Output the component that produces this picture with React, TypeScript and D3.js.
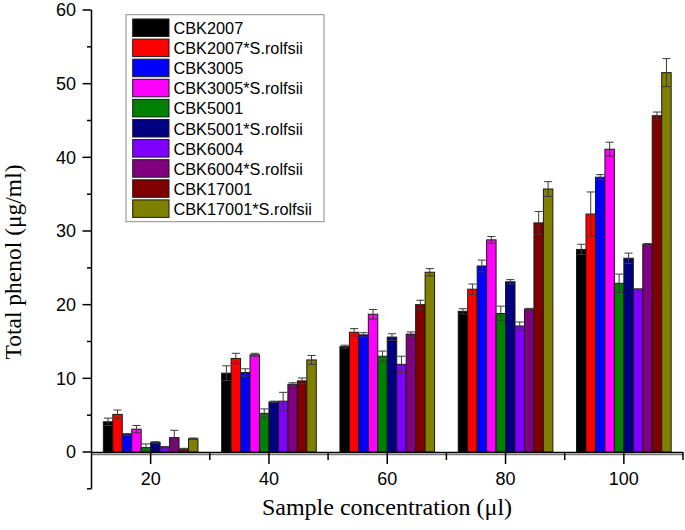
import React from "react";
import * as d3 from "d3";

const categories = ["20", "40", "60", "80", "100"];
const seriesNames = [
  "CBK2007",
  "CBK2007*S.rolfsii",
  "CBK3005",
  "CBK3005*S.rolfsii",
  "CBK5001",
  "CBK5001*S.rolfsii",
  "CBK6004",
  "CBK6004*S.rolfsii",
  "CBK17001",
  "CBK17001*S.rolfsii",
];
const seriesColors = [
  "#000000",
  "#ff0000",
  "#0000ff",
  "#ff00ff",
  "#008000",
  "#000080",
  "#8000ff",
  "#800080",
  "#800000",
  "#808000",
];
// values[series][category]
const values = [
  [4.1, 10.7, 14.3, 19.1, 27.5],
  [5.1, 12.7, 16.25, 22.1, 32.3],
  [2.4, 10.8, 15.9, 25.25, 37.3],
  [3.1, 13.2, 18.7, 28.8, 41.1],
  [0.6, 5.25, 13.0, 18.8, 22.9],
  [1.3, 6.8, 15.6, 23.1, 26.3],
  [0.65, 6.9, 11.9, 17.1, 22.1],
  [1.95, 9.2, 16.0, 19.4, 28.2],
  [0.4, 9.65, 20.0, 31.1, 45.65],
  [1.8, 12.5, 24.4, 35.7, 51.5],
];
const errors = [
  [0.5, 1.0, 0.2, 0.35, 0.7],
  [0.6, 0.7, 0.5, 0.7, 3.0],
  [0.1, 0.5, 0.3, 0.8, 0.35],
  [0.5, 0.2, 0.65, 0.45, 0.95],
  [0.5, 0.6, 0.7, 1.0, 1.25],
  [0.1, 0.1, 0.45, 0.3, 0.7],
  [0.1, 1.2, 1.1, 0.55, 0.05],
  [1.0, 0.2, 0.3, 0.1, 0.1],
  [0.1, 0.4, 0.6, 1.55, 0.5],
  [0.1, 0.6, 0.5, 1.0, 1.9],
];
const yMajorTicks = [0, 10, 20, 30, 40, 50, 60];
const yMinorTicks = [-5, 5, 15, 25, 35, 45, 55];

const W = 685;
const H = 530;
const left = 91.5;
const right = 683;
const yZero = 452;
const yTop = 10;

export default function App() {
  const y = d3.scaleLinear().domain([0, 60]).range([yZero, yTop]);
  const x0 = d3.scaleBand<string>().domain(categories).range([left, right]).padding(0);
  const bw = x0.bandwidth();
  const x1 = d3
    .scaleBand<string>()
    .domain(seriesNames)
    .range([bw * 0.1, bw * 0.9])
    .padding(0);
  const barW = x1.bandwidth();
  const capW = barW * 0.85;
  const sans = "'Liberation Sans', Arial, sans-serif";
  const serif = "'Liberation Serif', 'Times New Roman', serif";

  const bars: React.ReactNode[] = [];
  const errs: React.ReactNode[] = [];
  seriesNames.forEach((s, si) => {
    categories.forEach((c, ci) => {
      const v = values[si][ci];
      const e = errors[si][ci];
      const bx = (x0(c) as number) + (x1(s) as number);
      bars.push(
        <rect
          key={`b-${si}-${ci}`}
          x={bx}
          y={y(v)}
          width={barW}
          height={yZero - y(v)}
          fill={seriesColors[si]}
          stroke="#1a1a1a"
          strokeWidth={1}
        />
      );
      const cx = bx + barW / 2;
      const yt = y(v + e);
      const yb = y(v - e);
      errs.push(
        <g key={`e-${si}-${ci}`} stroke="#3a3a3a" strokeWidth={1}>
          <line x1={cx} x2={cx} y1={yt} y2={yb} />
          <line x1={cx - capW / 2} x2={cx + capW / 2} y1={yt} y2={yt} />
          <line x1={cx - capW / 2} x2={cx + capW / 2} y1={yb} y2={yb} />
        </g>
      );
    });
  });

  const yAxisBottom = y(-5);

  return (
    <svg
      width={W}
      height={H}
      style={{ position: "absolute", left: 0, top: 0, background: "#fff" }}
    >
      <rect x={0} y={0} width={W} height={H} fill="#fff" />
      {bars}
      {errs}
      {/* x axis */}
      <line x1={left} x2={right} y1={yZero + 0.5} y2={yZero + 0.5} stroke="#000" strokeWidth={1.5} />
      <line x1={left} x2={right} y1={yZero + 2.5} y2={yZero + 2.5} stroke="#777" strokeWidth={1.5} />
      {categories.map((c) => {
        const cx = (x0(c) as number) + bw / 2;
        return (
          <g key={`xt-${c}`}>
            <line x1={cx} x2={cx} y1={yZero} y2={yZero + 12} stroke="#000" strokeWidth={1.5} />
            <text
              x={cx}
              y={485}
              textAnchor="middle"
              fontFamily={sans}
              fontSize={18}
              fill="#000"
            >
              {c}
            </text>
          </g>
        );
      })}
      {categories.map((c) => {
        const ex = (x0(c) as number) + bw;
        return (
          <line key={`xm-${c}`} x1={ex} x2={ex} y1={yZero} y2={yZero + 8} stroke="#000" strokeWidth={1.5} />
        );
      })}
      {/* y axis */}
      <line x1={left} x2={left} y1={yTop} y2={yAxisBottom} stroke="#000" strokeWidth={1.5} />
      {yMajorTicks.map((t) => (
        <g key={`yt-${t}`}>
          <line x1={left - 9} x2={left} y1={y(t)} y2={y(t)} stroke="#000" strokeWidth={1.5} />
          <text
            x={76}
            y={y(t)}
            dy="0.35em"
            textAnchor="end"
            fontFamily={sans}
            fontSize={18}
            fill="#000"
          >
            {t}
          </text>
        </g>
      ))}
      {yMinorTicks.map((t) => (
        <line key={`ym-${t}`} x1={left - 4.5} x2={left} y1={y(t)} y2={y(t)} stroke="#000" strokeWidth={1.5} />
      ))}
      {/* axis titles */}
      <text
        x={387}
        y={515}
        textAnchor="middle"
        fontFamily={serif}
        fontSize={24}
        fill="#000"
      >
        Sample concentration (μl)
      </text>
      <text
        transform={`translate(20.5, 262) rotate(-90)`}
        textAnchor="middle"
        fontFamily={serif}
        fontSize={23.5}
        fill="#000"
      >
        Total phenol (μg/ml)
      </text>
      {/* legend */}
      <rect x={126} y={14.7} width={198} height={207} fill="#fff" stroke="#8a8a8a" strokeWidth={1} />
      {seriesNames.map((s, i) => {
        const top = 19 + i * 20.1;
        return (
          <g key={`lg-${s}`}>
            <rect
              x={132.7}
              y={top}
              width={36.3}
              height={17.5}
              fill={seriesColors[i]}
              stroke="#1a1a1a"
              strokeWidth={1}
            />
            <text
              x={173.5}
              y={top + 15}
              fontFamily={sans}
              fontSize={16.3}
              fill="#000"
            >
              {s}
            </text>
          </g>
        );
      })}
    </svg>
  );
}
